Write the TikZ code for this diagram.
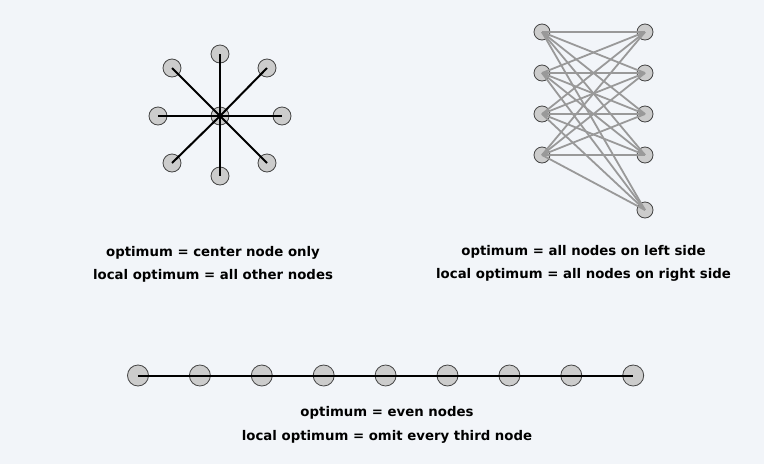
\documentclass[tikz,border=0pt]{standalone}
\usepackage{fontspec}
\setmainfont{DejaVu Sans}
\usepackage{xcolor}
\usetikzlibrary{positioning, calc}
\definecolor{bgcol}{HTML}{F2F5F9}
\definecolor{vfill}{HTML}{CCCCCC}
\definecolor{vline}{HTML}{444444}
\definecolor{egray}{HTML}{999999}

\begin{document}
\begin{tikzpicture}[x=1pt, y=-1pt,
    vtx/.style={circle, draw=vline, fill=vfill, line width=0.8pt, inner sep=0pt, minimum size=#1},
    vtx/.default=18pt,
    edge/.style={line width=2pt, black},
    gedge/.style={line width=1.8pt, egray},
    caption/.style={font=\bfseries\fontsize{13.3}{15}\selectfont, inner sep=0pt}]
    \fill[bgcol] (0,0) rectangle (764,464);

    % star
    \node[vtx] (c) at (220,116) {};
    \foreach \i/\dx/\dy in {1/0/-62, 2/47/-48, 3/62/0, 4/47/47, 5/0/60, 6/-48/47, 7/-62/0, 8/-48/-48}
        \node[vtx] (s\i) at ($(c)+(\dx,\dy)$) {};
    \foreach \i in {1,...,8}
        \draw[edge] (c.center) -- (s\i.center);
    \node[caption] (t1) at (213,253) {optimum = center node only};
    \node[caption] (t2) at (213,276) {local optimum = all other nodes};

    % bipartite
    \foreach \i/\y in {1/32, 2/73, 3/114, 4/155}
        \node[vtx=16pt] (l\i) at (542,\y) {};
    \foreach \j/\y in {1/32, 2/73, 3/114, 4/155, 5/210}
        \node[vtx=16pt] (r\j) at (645,\y) {};
    \foreach \i in {1,...,4}
        \foreach \j in {1,...,5}
            \draw[gedge] (l\i.center) -- (r\j.center);
    \node[caption] (t3) at (583.5,252) {optimum = all nodes on left side};
    \node[caption] (t4) at (583.5,275) {local optimum = all nodes on right side};

    % path
    \foreach \k in {1,...,9}
        \node[vtx=21pt] (p\k) at ({138+61.9*(\k-1)},375.5) {};
    \draw[edge] (p1.center) -- (p9.center);
    \node[caption] (t5) at (387,413) {optimum = even nodes};
    \node[caption] (t6) at (387,437) {local optimum = omit every third node};
\end{tikzpicture}
\end{document}
